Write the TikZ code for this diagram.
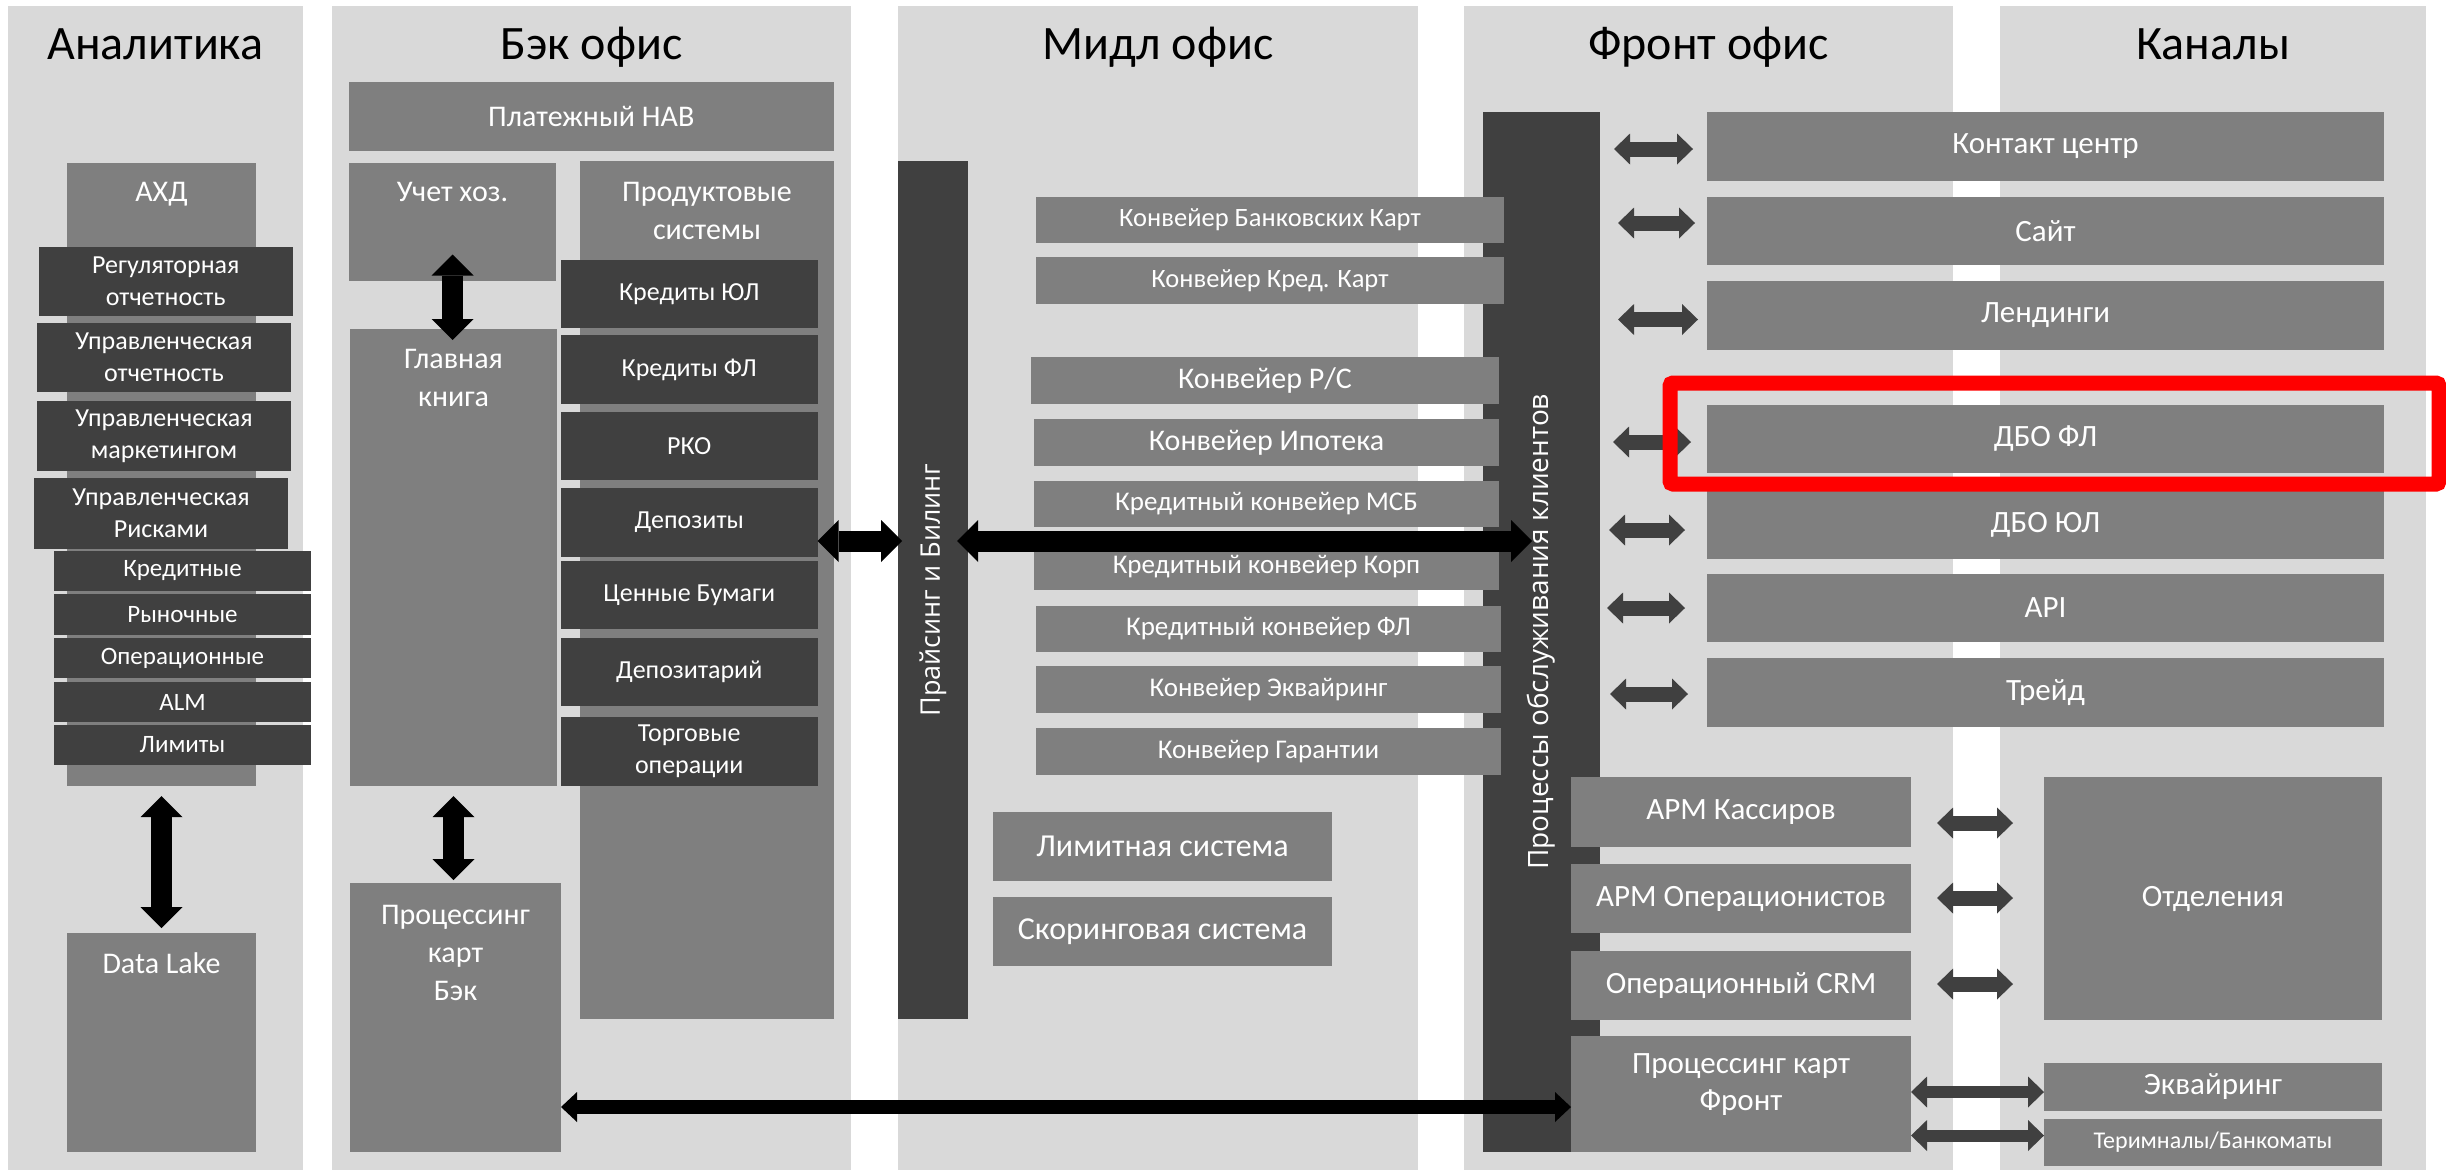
\documentclass[tikz,border=0pt]{standalone}
\usepackage{fontspec}
\setmainfont{Carlito}
\newfontfamily\osans{Open Sans}
\usetikzlibrary{arrows.meta,calc}
\definecolor{pnl}{HTML}{D9D9D9}
\definecolor{midg}{HTML}{7F7F7F}
\definecolor{darkg}{HTML}{404040}
\definecolor{hlred}{HTML}{FF0000}
\newcommand\bbox[6]{\node[#2, minimum width={#5pt-#3pt}, minimum height={#6pt-#4pt}] (#1) at ({(#3+#5)/2},{(#4+#6)/2})}
\begin{document}
\begin{tikzpicture}[x=1pt,y=-1pt,
  fs/.style 2 args={font=\fontsize{#1}{#2}\selectfont},
  panel/.style={fill=pnl, draw=none, inner sep=0pt, outer sep=0pt},
  midbox/.style={fill=midg, draw=none, text=white, inner sep=0pt, outer sep=0pt, align=center},
  darkbox/.style={fill=darkg, draw=none, text=white, inner sep=0pt, outer sep=0pt, align=center},
  lbl/.style={text=white, inner sep=0pt, anchor=base},
  ttl/.style={text=black, inner sep=0pt, anchor=base, fs={48}{58}},
  rot/.style={text=white, inner sep=0pt, rotate=90},
  hlbox/.style={draw=hlred, line width=15pt, rounded corners=3pt, inner sep=0pt, outer sep=0pt},
  bk/.style={draw=black, line width=21pt, >={Triangle[width=42pt,length=21pt,line width=0pt]}, <->},
  lk/.style={draw=black, line width=14pt, >={Triangle[width=30pt,length=16pt,line width=0pt]}, <->},
  gy/.style={draw=darkg, line width=15pt, >={Triangle[width=31pt,length=16pt,line width=0pt]}, <->},
]
\fill[white] (0,0) rectangle (2446,1170);
\useasboundingbox (0,0) rectangle (2446,1170);

% panels
\bbox{pA}{panel}{8}{6}{303}{1170} {};
\bbox{pB}{panel}{332}{6}{851}{1170} {};
\bbox{pM}{panel}{898}{6}{1418}{1170} {};
\bbox{pF}{panel}{1464}{6}{1953}{1170} {};
\bbox{pK}{panel}{2000}{6}{2426}{1170} {};

% titles
\node[ttl] (tA) at (155.5,59) {Аналитика};
\node[ttl] (tB) at (591.5,59) {Бэк офис};
\node[ttl] (tM) at (1158,59) {Мидл офис};
\node[ttl] (tF) at (1708.5,59) {Фронт офис};
\node[ttl] (tK) at (2213,59) {Каналы};

% Analytics
\bbox{ahd}{midbox}{67}{163}{256}{786} {};
\node[lbl, fs={30}{36}] (ahdt) at (161.5,201) {АХД};
\bbox{r1}{darkbox,fs={26}{32}}{38.5}{247}{293}{316} {Регуляторная\\отчетность};
\bbox{r2}{darkbox,fs={26}{32}}{37}{323}{291}{392} {Управленческая\\отчетность};
\bbox{r3}{darkbox,fs={26}{32}}{37}{401}{291}{471} {Управленческая\\маркетингом};
\bbox{r4}{darkbox,fs={26}{32}}{34}{478}{288}{549} {Управленческая\\Рисками};
\bbox{r5}{darkbox,fs={25}{30}}{54}{551}{311}{591} {Кредитные};
\bbox{r6}{darkbox,fs={25}{30}}{54}{594}{311}{635} {Рыночные};
\bbox{r7}{darkbox,fs={25}{30}}{54}{638}{311}{678} {Операционные};
\bbox{r8}{darkbox,fs={25}{30}}{54}{682}{311}{722} {ALM};
\bbox{r9}{darkbox,fs={25}{30}}{54}{725}{311}{765} {Лимиты};
\bbox{dl}{midbox}{67}{933}{256}{1152} {};
\node[lbl, fs={30}{36}] (dlt) at (161.5,973) {Data Lake};

% Back office
\bbox{nav}{midbox,fs={30}{36}}{349}{81.5}{833.5}{150.5} {Платежный НАВ};
\bbox{uch}{midbox}{349}{163}{556}{281} {};
\node[lbl, fs={30}{36}] (ucht) at (452.5,201) {Учет хоз.};
\bbox{prod}{midbox}{580}{161}{833.5}{1019} {};
\node[lbl, fs={30}{36}] (prodt1) at (707,201) {Продуктовые};
\node[lbl, fs={30}{36}] (prodt2) at (707,239) {системы};
\bbox{gk}{midbox}{350}{329}{557}{786} {};
\node[lbl, fs={30}{36}] (gkt1) at (453.5,368) {Главная};
\node[lbl, fs={30}{36}] (gkt2) at (453.5,406) {книга};
\bbox{k1}{darkbox,fs={26}{32}}{561}{259.5}{817.5}{328} {Кредиты ЮЛ};
\bbox{k2}{darkbox,fs={26}{32}}{561}{335}{817.5}{404} {Кредиты ФЛ};
\bbox{k3}{darkbox,fs={26}{32}}{561}{412}{817.5}{480} {РКО};
\bbox{k4}{darkbox,fs={26}{32}}{561}{487.5}{817.5}{556.5} {Депозиты};
\bbox{k5}{darkbox,fs={26}{32}}{561}{561}{817.5}{629} {Ценные Бумаги};
\bbox{k6}{darkbox,fs={26}{32}}{561}{638}{817.5}{706} {Депозитарий};
\bbox{k7}{darkbox,fs={26}{32}}{561}{717}{817.5}{786} {Торговые\\операции};
\bbox{pcb}{midbox}{350}{883}{561}{1152} {};
\node[lbl, fs={30}{36}] (pcbt1) at (455.5,924) {Процессинг};
\node[lbl, fs={30}{36}] (pcbt2) at (455.5,962) {карт};
\node[lbl, fs={30}{36}] (pcbt3) at (455.5,1000) {Бэк};

% Middle office
\bbox{pb}{darkbox}{898}{161}{968}{1019} {};
\node[rot, font=\osans\fontsize{27}{32}\selectfont] (pbt) at (933,590) {Прайсинг и Билинг};
\bbox{pr}{darkbox}{1483}{112}{1600}{1152} {};
\node[rot, font=\osans\fontsize{28}{34}\selectfont] (prt) at (1541.5,632) {Процессы обслуживания клиентов};
\bbox{c1}{midbox,fs={26.5}{32}}{1036}{197}{1504}{243} {Конвейер Банковских Карт};
\bbox{c2}{midbox,fs={26.5}{32}}{1036}{257}{1504}{304} {Конвейер Кред. Карт};
\bbox{c3}{midbox,fs={30}{36}}{1031}{357}{1499}{404} {Конвейер Р/С};
\bbox{c4}{midbox,fs={30}{36}}{1034}{419}{1499}{466} {Конвейер Ипотека};
\bbox{c5}{midbox,fs={27}{32}}{1034}{481}{1499}{527} {Кредитный конвейер МСБ};
\bbox{c6}{midbox,fs={27}{32}}{1034}{543.5}{1499}{589.5} {Кредитный конвейер Корп};
\bbox{c7}{midbox,fs={27}{32}}{1036}{606}{1501}{651.6} {Кредитный конвейер ФЛ};
\bbox{c8}{midbox,fs={27}{32}}{1036}{666}{1501}{713} {Конвейер Эквайринг};
\bbox{c9}{midbox,fs={27}{32}}{1036}{727.5}{1501}{774.6} {Конвейер Гарантии};
\bbox{lim}{midbox,fs={32}{38}}{993}{812}{1332}{880.6} {Лимитная система};
\bbox{sc}{midbox,fs={32}{38}}{993}{897}{1332}{966} {Скоринговая система};

% Front office
\bbox{a1}{midbox,fs={31}{37}}{1571}{777}{1911}{847} {АРМ Кассиров};
\bbox{a2}{midbox,fs={31}{37}}{1571}{864}{1911}{933} {АРМ Операционистов};
\bbox{a3}{midbox,fs={31}{37}}{1571}{950.5}{1911}{1020} {Операционный CRM};
\bbox{pf}{midbox}{1571}{1036}{1911}{1152} {};
\node[text=white, inner sep=0pt, align=center, fs={31}{37}] (pft) at (1741,1085) {Процессинг карт\\Фронт};

% Channels
\bbox{ch1}{midbox,fs={31}{37}}{1707}{112}{2384}{180.6} {Контакт центр};
\bbox{ch2}{midbox,fs={31}{37}}{1707}{197}{2384}{265} {Сайт};
\bbox{ch3}{midbox,fs={31}{37}}{1707}{281}{2384}{350} {Лендинги};
\bbox{ch4}{midbox,fs={31}{37}}{1707}{404.5}{2384}{473} {ДБО ФЛ};
\bbox{ch5}{midbox,fs={31}{37}}{1707}{491}{2384}{559} {ДБО ЮЛ};
\bbox{ch6}{midbox,fs={31}{37}}{1707}{573.7}{2384}{642} {API};
\bbox{ch7}{midbox,fs={31}{37}}{1707}{658}{2384}{727} {Трейд};
\bbox{otd}{midbox,fs={31}{37}}{2044}{777}{2382}{1020} {Отделения};
\bbox{eq}{midbox,fs={31}{37}}{2044}{1063}{2382}{1110.7} {Эквайринг};
\bbox{tb}{midbox,fs={24}{29}}{2044}{1119}{2382}{1166} {Теримналы/Банкоматы};

% helper levels
\coordinate (yDep) at (0,541);
\coordinate (yLong) at (0,1107);
\coordinate (g1) at (0,149);
\coordinate (g2) at (0,223);
\coordinate (g3) at (0,319.5);
\coordinate (g4) at (0,442);
\coordinate (g5) at (0,530);
\coordinate (g6) at (0,608);
\coordinate (g7) at (0,694);
\coordinate (h1) at (0,823);
\coordinate (h2) at (0,898);
\coordinate (h3) at (0,984);
\coordinate (h4) at (0,1092);
\coordinate (h5) at (0,1135.5);

% black arrows
\draw[bk, shorten <=10pt, shorten >=5pt] (ahd.south) -- (dl.north);
\draw[bk, shorten <=-26.5pt, shorten >=-11pt] (uch.south) -- (uch.south |- gk.north);
\draw[bk, shorten <=10pt, shorten >=3pt] (gk.south) -- (gk.south |- pcb.north);
\draw[bk, shorten >=-4pt] (k4.east |- yDep) -- (pb.west |- yDep);
\draw[bk, shorten <=-11pt, shorten >=-49pt] (pb.east |- yDep) -- (pr.west |- yDep);
\draw[lk] (pcb.east |- yLong) -- (pf.west |- yLong);

% grey arrows
\draw[gy, shorten <=14pt, shorten >=14pt] (pr.east |- g1) -- (ch1.west |- g1);
\draw[gy, shorten <=18pt, shorten >=12pt] (pr.east |- g2) -- (ch2.west |- g2);
\draw[gy, shorten <=18pt, shorten >=9pt] (pr.east |- g3) -- (ch3.west |- g3);
\draw[gy, shorten <=13pt, shorten >=16pt] (pr.east |- g4) -- (ch4.west |- g4);
\draw[gy, shorten <=9pt, shorten >=22pt] (pr.east |- g5) -- (ch5.west |- g5);
\draw[gy, shorten <=7pt, shorten >=22pt] (pr.east |- g6) -- (ch6.west |- g6);
\draw[gy, shorten <=10pt, shorten >=19pt] (pr.east |- g7) -- (ch7.west |- g7);
\draw[gy, shorten <=26pt, shorten >=31pt] (a1.east |- h1) -- (otd.west |- h1);
\draw[gy, shorten <=26pt, shorten >=31pt] (a2.east |- h2) -- (otd.west |- h2);
\draw[gy, shorten <=26pt, shorten >=31pt] (a3.east |- h3) -- (otd.west |- h3);
\draw[gy, line width=12pt] (pf.east |- h4) -- (eq.west |- h4);
\draw[gy, line width=12pt] (pf.east |- h5) -- (tb.west |- h5);

% highlight
\bbox{hl}{hlbox}{1670}{383}{2439}{484} {};
\end{tikzpicture}
\end{document}
